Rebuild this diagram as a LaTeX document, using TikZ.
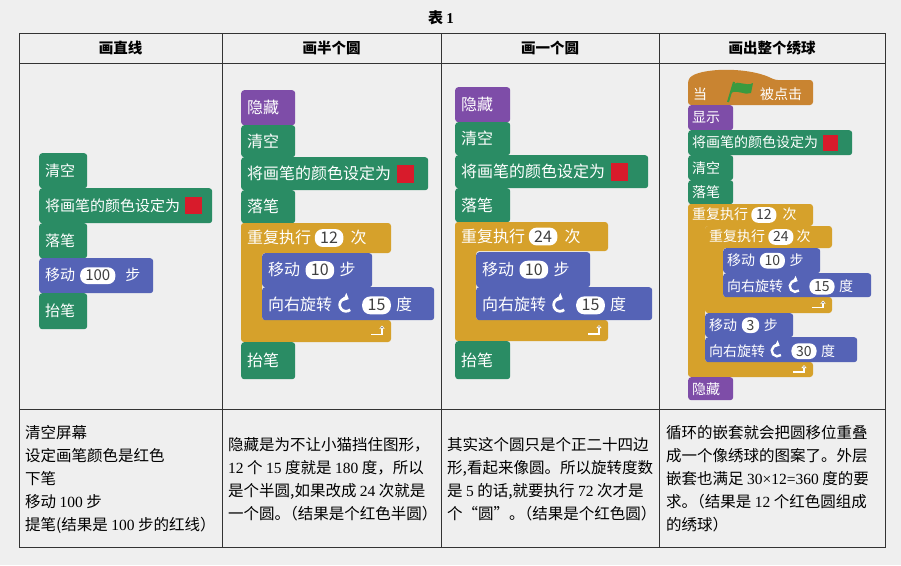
\documentclass[tikz,border=0pt]{standalone}
\usepackage{fontspec}
\setmainfont{Noto Sans CJK SC}
\newfontfamily\latinfont{Liberation Serif}
\usetikzlibrary{arrows.meta}

\definecolor{bgc}{HTML}{EFEFEF}
\definecolor{penc}{HTML}{2A8C64}
\definecolor{looksc}{HTML}{7E4DA8}
\definecolor{movec}{HTML}{5563B6}
\definecolor{ctrlc}{HTML}{D6A12B}
\definecolor{hatc}{HTML}{C98431}
\definecolor{swred}{HTML}{D81B2B}
\definecolor{flagc}{HTML}{3A9A3F}

\newcommand{\pill}[1]{\tikz[baseline=(v.base)]\node[pillbox](v){#1};}
\newcommand{\turn}{\tikz[baseline=-0.38em,x=1em,y=1em,rounded corners=0pt]\draw[turnarrow] (-50:0.4) arc[start angle=-50,end angle=-295,radius=0.4];}
\newcommand{\swatch}{{\color{swred}\rule[-0.2em]{1.1em}{1.15em}}}
\newcommand{\pq}{\hspace{-0.5em}}
% x, top, head bottom, inner bottom, bottom, width, arm, label, name
\newcommand{\loopblock}[9]{%
    \fill[ctrlc, rounded corners=3pt] (#1,#2) -- ({#1+#6},#2) -- ({#1+#6},#3) -- ({#1+#7},#3) -- ({#1+#7},#4)
        -- ({#1+#6},#4) -- ({#1+#6},#5) -- (#1,#5) -- cycle;
    \node[loophead] (#9) at (#1,{(#2+#3)/2}) {#8};
    \draw[looparrow] ({#1+#6-20},{(#4+#5)/2+\arrh/2-1}) -- ++(11,0) -- ++(0,-\arrh);
}

\begin{document}
\begin{tikzpicture}[x=1pt,y=-1pt]
    \def\arrh{9}

    \tikzset{
        blk/.style={anchor=north west, rounded corners=3pt, text=white,
            inner xsep=6pt, inner ysep=0pt, align=left},
        penblock/.style={blk, fill=penc},
        looksblock/.style={blk, fill=looksc},
        moveblock/.style={blk, fill=movec},
        loophead/.style={anchor=west, text=white, inner xsep=6pt},
        pillbox/.style={anchor=center, fill=white, draw=none, text=black!75,
            rounded corners=0.5em, inner xsep=0.34em, inner ysep=0.16em,
            text width=, minimum width=0pt, minimum height=0pt,
            text height=0.75em, text depth=0.05em, align=center},
        turnarrow/.style={draw=white, line width=0.17em, -{Triangle[length=0.3em,width=0.55em]}},
        looparrow/.style={draw=white, line width=1.6pt, -{Triangle[length=3pt,width=5pt]}},
        grid/.style={draw=black!80, line width=0.9pt},
        head/.style={font=\fontsize{14.5}{14.5}\selectfont\bfseries},
        desc/.style={anchor=west, align=left, inner sep=0pt, font=\fontsize{15.5}{23}\selectfont}
    }

    \fill[bgc] (0,0) rectangle (901,565);

    % title and table
    \node[font=\fontsize{15}{15}\selectfont\bfseries] (title) at (441,18) {表\ {\latinfont 1}};
    \draw[grid] (19,33) rectangle (885,547);
    \draw[grid] (19,63) -- (885,63);
    \draw[grid] (19,409) -- (885,409);
    \draw[grid] (222,33) -- (222,547);
    \draw[grid] (441,33) -- (441,547);
    \draw[grid] (659,33) -- (659,547);

    \node[head] (h1) at (120.5,48) {画直线};
    \node[head] (h2) at (331.5,48) {画半个圆};
    \node[head] (h3) at (550,48)   {画一个圆};
    \node[head] (h4) at (772,48)   {画出整个绣球};

    % 1st column
    \begin{scope}[font=\fontsize{15}{15}\selectfont]
    \node[penblock,  text width=36pt,  minimum height=35pt] (a1) at (39,153) {清空};
    \node[penblock,  text width=161pt, minimum height=35pt] (a2) at (39,188) {将画笔的颜色设定为~\swatch};
    \node[penblock,  text width=36pt,  minimum height=35pt] (a3) at (39,223) {落笔};
    \node[moveblock, text width=102pt, minimum height=35pt] (a4) at (39,258) {移动~\pill{100}~~步};
    \node[penblock,  text width=36pt,  minimum height=36pt] (a5) at (39,293) {抬笔};
    \end{scope}

    % 2nd column
    \begin{scope}[font=\fontsize{16}{16}\selectfont]
    \node[looksblock, text width=42pt,  minimum height=35pt] (b1) at (241,90)  {隐藏};
    \node[penblock,   text width=42pt,  minimum height=32pt] (b2) at (241,125) {清空};
    \node[penblock,   text width=175pt, minimum height=33pt] (b3) at (241,157) {将画笔的颜色设定为~\swatch};
    \node[penblock,   text width=42pt,  minimum height=33pt] (b4) at (241,190) {落笔};
    \loopblock{241}{223}{253}{320}{342}{150}{21}{重复执行~\pill{12}~~次}{b5}
    \node[moveblock,  text width=98pt,  minimum height=34pt] (b6) at (262,253) {移动~\pill{10}~步};
    \node[moveblock,  text width=160pt, minimum height=33pt] (b7) at (262,287) {向右旋转~\turn~~\pill{15}~度};
    \node[penblock,   text width=42pt,  minimum height=37pt] (b8) at (241,342) {抬笔};
    \end{scope}

    % 3rd column
    \begin{scope}[font=\fontsize{16}{16}\selectfont]
    \node[looksblock, text width=43pt,  minimum height=35pt] (c1) at (455,87)  {隐藏};
    \node[penblock,   text width=43pt,  minimum height=33pt] (c2) at (455,122) {清空};
    \node[penblock,   text width=181pt, minimum height=33pt] (c3) at (455,155) {将画笔的颜色设定为~\swatch};
    \node[penblock,   text width=43pt,  minimum height=34pt] (c4) at (455,188) {落笔};
    \loopblock{455}{222}{251}{320}{341}{153}{21}{重复执行~\pill{24}~~次}{c5}
    \node[moveblock,  text width=102pt, minimum height=35pt] (c6) at (476,252) {移动~\pill{10}~步};
    \node[moveblock,  text width=164pt, minimum height=33pt] (c7) at (476,287) {向右旋转~\turn~~\pill{15}~度};
    \node[penblock,   text width=43pt,  minimum height=38pt] (c8) at (455,341) {抬笔};
    \end{scope}

    % 4th column
    \begin{scope}[font=\fontsize{14}{14}\selectfont, blk/.append style={inner xsep=4pt},
        loophead/.append style={inner xsep=4pt}]
    \def\arrh{7}
    \fill[hatc, rounded corners=3pt] (688,105) -- (688,80) .. controls (698,68) and (748,66) .. (775,80)
        -- (813,80) -- (813,105) -- cycle;
    \node[anchor=west, text=white, inner sep=0pt] (d0a) at (693,94) {当};
    \draw[flagc, line width=2pt] (728,102) -- (734,82);
    \fill[flagc] (733,84) .. controls (739,80) and (746,87) .. (753,83) -- (751,93)
        .. controls (745,96) and (738,89) .. (731,93) -- cycle;
    \node[anchor=west, text=white, inner sep=0pt] (d0b) at (760,94) {被点击};
    \node[looksblock, text width=37pt,  minimum height=25pt] (d1) at (688,105) {显示};
    \node[penblock,   text width=156pt, minimum height=25pt] (d2) at (688,130) {将画笔的颜色设定为~\swatch};
    \node[penblock,   text width=37pt,  minimum height=25pt] (d3) at (688,155) {清空};
    \node[penblock,   text width=37pt,  minimum height=24pt] (d4) at (688,180) {落笔};
    \loopblock{688}{204}{226}{362}{377}{125}{17}{重复执行~\pill{12}~~次}{d5}
    \loopblock{705}{226}{248}{297}{313}{127}{18}{重复执行~\pill{24}~次}{d6}
    \node[moveblock,  text width=89pt,  minimum height=25pt] (d7) at (723,248) {移动~\pill{10}~步};
    \node[moveblock,  text width=140pt, minimum height=24pt] (d8) at (723,273) {向右旋转~\turn~~\pill{15}~度};
    \node[moveblock,  text width=80pt,  minimum height=24pt] (d9) at (705,313) {移动~\pill{3}~步};
    \node[moveblock,  text width=144pt, minimum height=25pt] (d10) at (705,337) {向右旋转~\turn~~\pill{30}~度};
    \node[looksblock, text width=37pt,  minimum height=23pt] (d11) at (688,377) {隐藏};
    \end{scope}

    % descriptions
    \node[desc] (t1) at (25,479) {清空屏幕\\设定画笔颜色是红色\\下笔\\移动 {\latinfont 100} 步\\提笔(结果是 {\latinfont 100} 步的红线）};
    \node[desc] (t2) at (228,479) {隐藏是为不让小猫挡住图形，\\{\latinfont 12} 个 {\latinfont 15} 度就是 {\latinfont 180} 度，所以\\是个半圆,如果改成 {\latinfont 24} 次就是\\一个圆。\pq（结果是个红色半圆）};
    \node[desc] (t3) at (447,479) {其实这个圆只是个正二十四边\\形,看起来像圆。所以旋转度数\\是 {\latinfont 5} 的话,就要执行 {\latinfont 72} 次才是\\个“圆”。\pq（结果是个红色圆）};
    \node[desc] (t4) at (666,479) {循环的嵌套就会把圆移位重叠\\成一个像绣球的图案了。外层\\嵌套也满足 {\latinfont 30×12=360} 度的要\\求。\pq（结果是 {\latinfont 12} 个红色圆组成\\的绣球）};

\end{tikzpicture}
\end{document}
